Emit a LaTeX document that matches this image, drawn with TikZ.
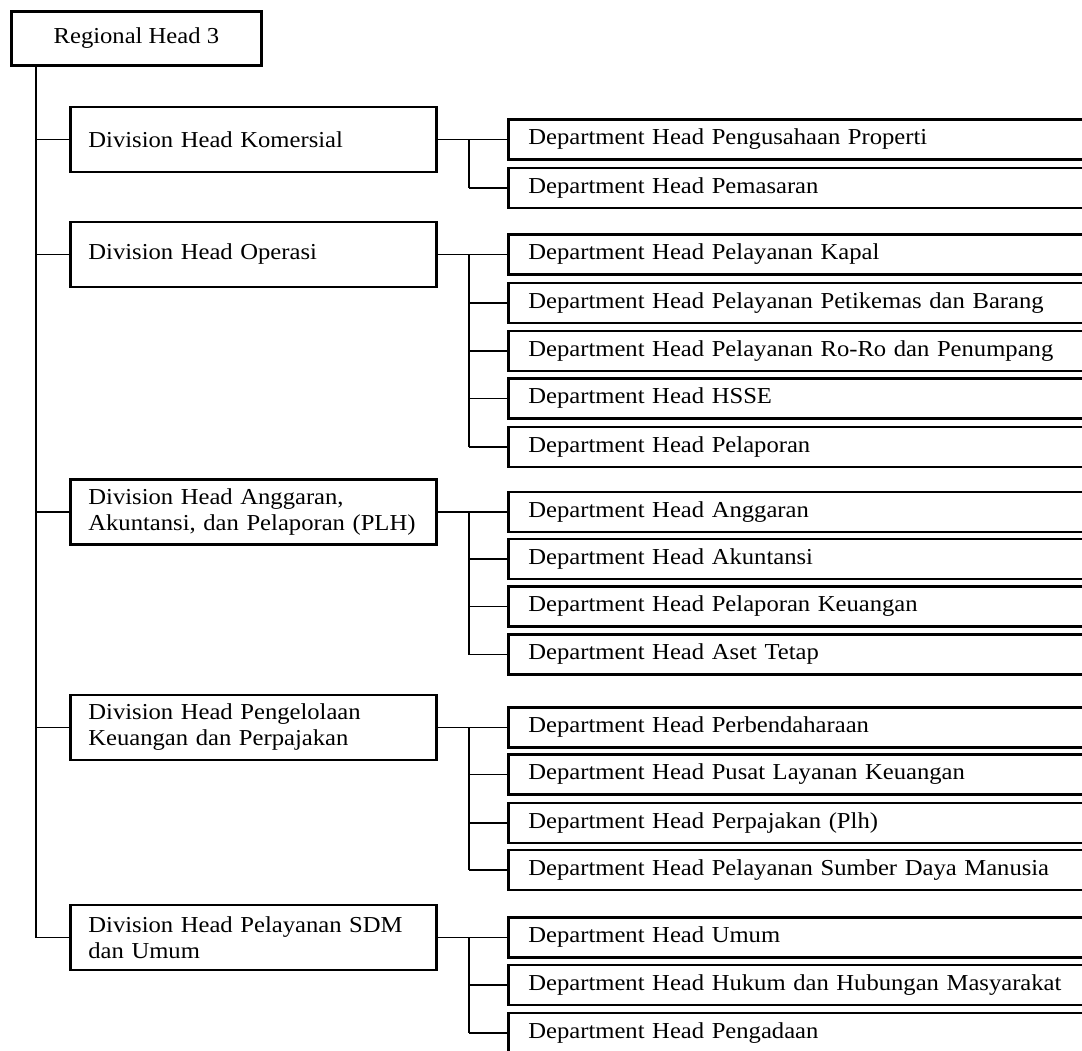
\documentclass[tikz,border=0pt]{standalone}
\usepackage{fontspec}
\setmainfont{Liberation Serif}[FakeStretch=1.08]
\usetikzlibrary{calc}

\tikzset{
  headbox/.style={draw,line width=2.8pt,minimum width=250pt,minimum height=54pt,inner sep=0pt,anchor=north west},
  divbox/.style={draw,line width=2.8pt,text width=330pt,inner xsep=18pt,inner ysep=0pt,minimum height=65pt,align=left,anchor=west},
  deptbox/.style={draw,line width=2.8pt,text width=620pt,inner xsep=20pt,inner ysep=0pt,minimum height=40pt,align=left,anchor=west},
  link/.style={line width=1.6pt}
}

\begin{document}
\begin{tikzpicture}[x=1pt,y=-1pt,font=\fontsize{22.8}{26}\selectfont]
  \useasboundingbox (0,0) rectangle (1082,1050);
  \clip (0,0) rectangle (1082,1050);

  \node[headbox] (regional) at (10,10) {Regional Head 3};

  \node[divbox] (komersial) at (69,139.5) {Division Head Komersial};
  \node[divbox] (operasi) at (69,254.5) {Division Head Operasi};
  \node[divbox] (anggaran) at (69,512) {Division Head Anggaran,\\Akuntansi, dan Pelaporan (PLH)};
  \node[divbox] (keuangan) at (69,727.5) {Division Head Pengelolaan\\Keuangan dan Perpajakan};
  \node[divbox] (sdmumum) at (69,937.5) {Division Head Pelayanan SDM\\dan Umum};

  \coordinate (trunk) at (36,64);
  \coordinate (jx) at (469,0);

  \foreach \name/\y/\txt in {
      kom1/139.5/{Department Head Pengusahaan Properti},
      kom2/188/{Department Head Pemasaran},
      ops1/254.5/{Department Head Pelayanan Kapal},
      ops2/303/{Department Head Pelayanan Petikemas dan Barang},
      ops3/351/{Department Head Pelayanan Ro-Ro dan Penumpang},
      ops4/398.5/{Department Head HSSE},
      ops5/447/{Department Head Pelaporan},
      agr1/512/{Department Head Anggaran},
      agr2/559/{Department Head Akuntansi},
      agr3/606.5/{Department Head Pelaporan Keuangan},
      agr4/654.5/{Department Head Aset Tetap},
      keu1/727.5/{Department Head Perbendaharaan},
      keu2/774.5/{Department Head Pusat Layanan Keuangan},
      keu3/823/{Department Head Perpajakan (Plh)},
      keu4/870/{Department Head Pelayanan Sumber Daya Manusia},
      sdm1/937.5/{Department Head Umum},
      sdm2/985/{Department Head Hukum dan Hubungan Masyarakat},
      sdm3/1033/{Department Head Pengadaan}}
  {
    \node[deptbox] (\name) at (507,\y) {\txt};
    \draw[link] (jx |- \name.west) -- (\name.west);
  }

  \draw[link] (trunk) |- (sdmumum.west);
  \foreach \d in {komersial,operasi,anggaran,keuangan}
    \draw[link] (trunk |- \d.west) -- (\d.west);

  \foreach \d/\first/\last in {komersial/kom1/kom2,operasi/ops1/ops5,anggaran/agr1/agr4,keuangan/keu1/keu4,sdmumum/sdm1/sdm3}
  {
    \draw[link] (\d.east) -- (\first.west);
    \draw[link] (jx |- \first.west) -- (jx |- \last.west);
  }
\end{tikzpicture}
\end{document}
